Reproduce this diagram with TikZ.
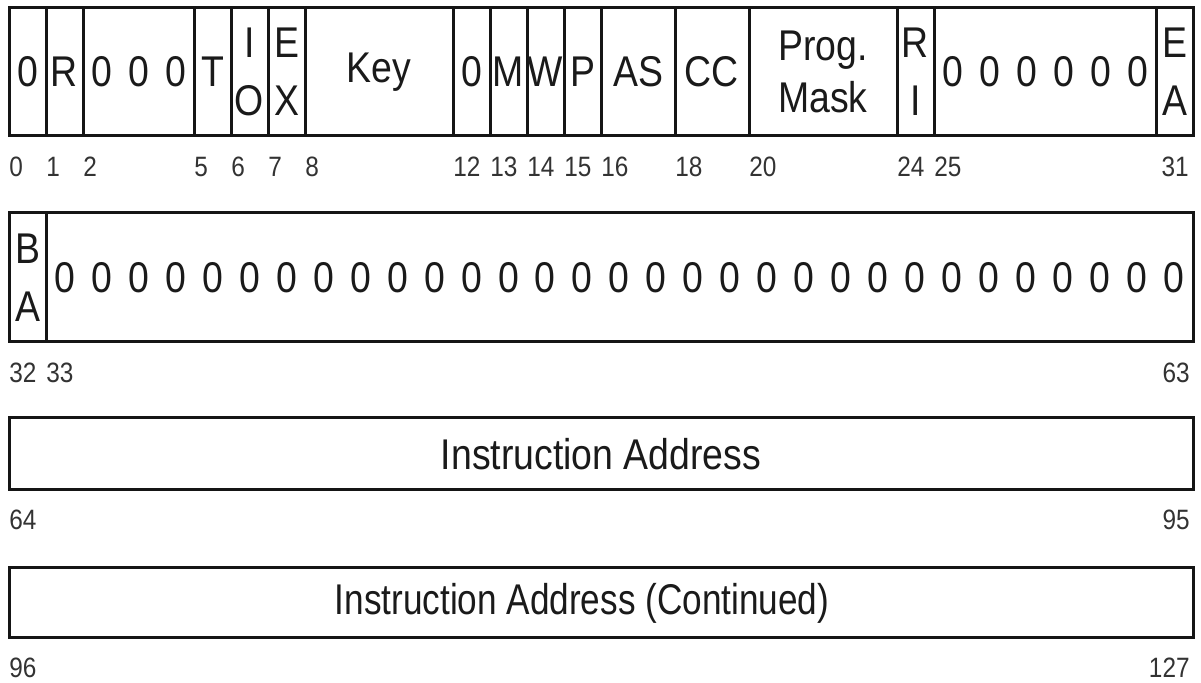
\documentclass[tikz,border=0pt]{standalone}
\usepackage{fontspec}
\setmainfont{Liberation Sans}[FakeStretch=0.87]
\definecolor{linecol}{HTML}{151515}
\definecolor{textcol}{HTML}{1A1A1A}
\definecolor{numcol}{HTML}{333333}
\newcommand\fieldfont{\fontsize{21.5pt}{29pt}\selectfont}
\newcommand\numfont{\fontsize{14pt}{16pt}\selectfont}
% a run of zero bits, one digit centred in each bit cell
\newcommand\zerorun[1]{\foreach\k in {1,...,#1}{\makebox[18.5pt]{0}}}
\begin{document}
\begin{tikzpicture}[x=0.5pt,y=-0.5pt,
  field/.style={draw=linecol, line width=1.5pt, inner sep=0pt, outer sep=0pt,
    text=textcol, font=\fieldfont, align=center},
  bits/.style={minimum width=#1*18.5pt},
  rowA/.style={minimum height=64pt},
  rowB/.style={minimum height=64.5pt},
  bitno/.style={inner sep=0pt, text=numcol, font=\numfont},
  bitl/.style={bitno, anchor=base west},
  bitr/.style={bitno, anchor=base east}]
\fill[white] (0,0) rectangle (1201,683);
\useasboundingbox (0,0) rectangle (1201,683);

% ---- word 1: bits 0-31 ----
\node[field, rowA, bits=1] (f0)   at (27.5,72)  {0};
\node[field, rowA, bits=1] (fR)   at (64.5,72)  {R};
\node[field, rowA, bits=3] (fz2)  at (138.5,72) {\zerorun{3}};
\node[field, rowA, bits=1] (fT)   at (212.5,72) {T};
\node[field, rowA, bits=1] (fIO)  at (249.5,72) {I\\O};
\node[field, rowA, bits=1] (fEX)  at (286.5,72) {E\\X};
\node[field, rowA, bits=4] (fKey) at (379,72)   {Key};
\node[field, rowA, bits=1] (fz12) at (471.5,72) {0};
\node[field, rowA, bits=1] (fM)   at (508.5,72) {M};
\node[field, rowA, bits=1] (fW)   at (545.5,72) {W};
\node[field, rowA, bits=1] (fP)   at (582.5,72) {P};
\node[field, rowA, bits=2] (fAS)  at (638,72)   {AS};
\node[field, rowA, bits=2] (fCC)  at (712,72)   {CC};
\node[field, rowA, bits=4, font=\fontsize{21.5pt}{26pt}\selectfont]
      (fPM)  at (823,72)   {Prog.\\Mask};
\node[field, rowA, bits=1] (fRI)  at (915.5,72) {R\\I};
\node[field, rowA, bits=6] (fz25) at (1045,72)  {\zerorun{6}};
\node[field, rowA, bits=1] (fEA)  at (1174.5,72){E\\A};

\node[bitl] (n0)  at (9,177)   {0};
\node[bitl] (n1)  at (46,177)  {1};
\node[bitl] (n2)  at (83,177)  {2};
\node[bitl] (n5)  at (194,177) {5};
\node[bitl] (n6)  at (231,177) {6};
\node[bitl] (n7)  at (268,177) {7};
\node[bitl] (n8)  at (305,177) {8};
\node[bitl] (n12) at (453,177) {12};
\node[bitl] (n13) at (490,177) {13};
\node[bitl] (n14) at (527,177) {14};
\node[bitl] (n15) at (564,177) {15};
\node[bitl] (n16) at (601,177) {16};
\node[bitl] (n18) at (675,177) {18};
\node[bitl] (n20) at (749,177) {20};
\node[bitl] (n24) at (897,177) {24};
\node[bitl] (n25) at (934,177) {25};
\node[bitr] (n31) at (1189,177){31};

% ---- word 2: bits 32-63 ----
\node[field, rowB, bits=1]  (fBA)  at (27.5,277.5)  {B\\A};
\node[field, rowB, bits=31] (fz33) at (619.5,277.5) {\zerorun{31}};

\node[bitl] (n32) at (9,383)    {32};
\node[bitl] (n33) at (46,383)   {33};
\node[bitr] (n63) at (1190,383) {63};

% ---- word 3: bits 64-95 ----
\node[field, bits=32, minimum height=36pt] (fIA) at (601,454) {Instruction Address};
\node[bitl] (n64) at (9,530)    {64};
\node[bitr] (n95) at (1190,530) {95};

% ---- word 4: bits 96-127 ----
\node[field, bits=32, minimum height=35pt] (fIAC) at (601,603) {};
\node[text=textcol, font=\fieldfont, inner sep=0pt] (tIAC) at (582,603)
      {\scalebox{0.94}[1]{Instruction Address (Continued)}};
\node[bitl] (n96)  at (9,678)    {96};
\node[bitr] (n127) at (1190,678) {127};
\end{tikzpicture}
\end{document}
